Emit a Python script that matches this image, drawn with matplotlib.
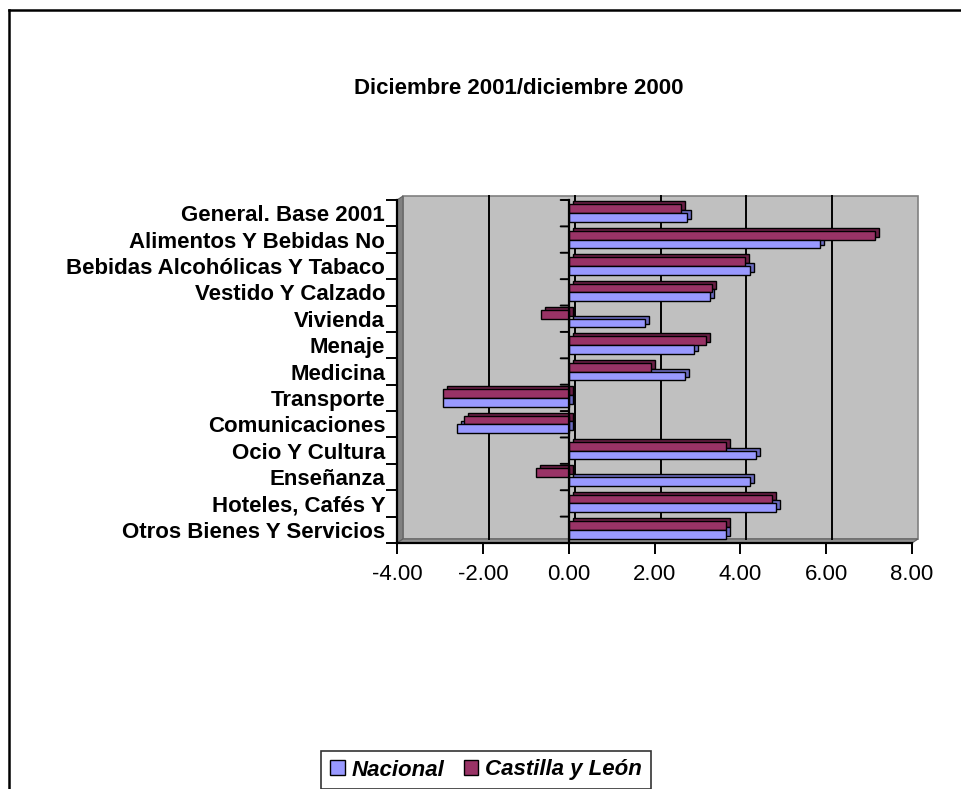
import matplotlib
matplotlib.use("Agg")
import matplotlib.pyplot as plt
import matplotlib.transforms as mtransforms
from matplotlib.patches import Rectangle, Polygon
from matplotlib.lines import Line2D

# Variación interanual del IPC por grupos (%)
categories = [
    "General. Base 2001",
    "Alimentos Y Bebidas No",
    "Bebidas Alcohólicas Y Tabaco",
    "Vestido Y Calzado",
    "Vivienda",
    "Menaje",
    "Medicina",
    "Transporte",
    "Comunicaciones",
    "Ocio Y Cultura",
    "Enseñanza",
    "Hoteles, Cafés Y",
    "Otros Bienes Y Servicios",
]
nacional = [2.75, 5.85, 4.22, 3.29, 1.77, 2.93, 2.70, -2.93, -2.60, 4.36, 4.22, 4.82, 3.67]
castilla = [2.62, 7.14, 4.11, 3.33, -0.65, 3.19, 1.91, -2.93, -2.43, 3.67, -0.75, 4.74, 3.67]
series_names = ["Nacional", "Castilla y León"]
x_ticks = [-4, -2, 0, 2, 4, 6, 8]
x_tick_labels = ["-4.00", "-2.00", "0.00", "2.00", "4.00", "6.00", "8.00"]
title = "Diciembre 2001/diciembre 2000"

plt.rcParams["font.family"] = ["Liberation Sans", "DejaVu Sans"]
FS = 16

W, H, DPI = 961, 789, 100
fig = plt.figure(figsize=(W / DPI, H / DPI), dpi=DPI)
fig.patch.set_facecolor("white")

ax_l, ax_r, ax_t, ax_b = 397, 912, 200, 543
ax = fig.add_axes([ax_l / W, 1 - ax_b / H, (ax_r - ax_l) / W, (ax_b - ax_t) / H])
ax.set_facecolor("none")
ax.set_xlim(x_ticks[0], x_ticks[-1])
n = len(categories)
ax.set_ylim(n, 0)

# depth of the 3D wall, in pixels
dpx, dpy = 6, 4
dx = dpx / (ax_r - ax_l)
dy = dpy / (ax_b - ax_t)
wall_off = mtransforms.ScaledTranslation(dpx / DPI, dpy / DPI, fig.dpi_scale_trans)

# back wall, side wall and floor
ax.add_patch(Rectangle((dx, dy), 1, 1, transform=ax.transAxes, facecolor="#C0C0C0",
                       edgecolor="#808080", lw=1.2, zorder=0, clip_on=False))
ax.add_patch(Polygon([(0, 0), (0, 1), (dx, 1 + dy), (dx, dy)], closed=True,
                     transform=ax.transAxes, facecolor="#808080", edgecolor="#606060",
                     lw=0.8, zorder=0.2, clip_on=False))
ax.add_patch(Polygon([(0, 0), (1, 0), (1 + dx, dy), (dx, dy)], closed=True,
                     transform=ax.transAxes, facecolor="#909090", edgecolor="#606060",
                     lw=0.8, zorder=0.2, clip_on=False))

# vertical gridlines on the back wall
grid_tr = mtransforms.blended_transform_factory(ax.transData, ax.transAxes) + wall_off
for xv in x_ticks[1:-1]:
    ax.plot([xv, xv], [0, 1], color="black", lw=1.4, transform=grid_tr,
            zorder=0.5, clip_on=False)

# category axis at zero with short ticks between groups
ax.plot([0, 0], [0, n], color="black", lw=1.6, zorder=4, clip_on=False)
for k in range(n + 1):
    ax.annotate("", xy=(0, k), xytext=(-8, 0), textcoords="offset pixels",
                arrowprops=dict(arrowstyle="-", color="black", lw=1.4,
                                shrinkA=0, shrinkB=0), zorder=4)

# bars drawn as shallow boxes: shaded depth copy behind, front face on top
bar_h = 0.33
centers_c = [i + 0.5 - bar_h / 2 for i in range(n)]
centers_n = [i + 0.5 + bar_h / 2 for i in range(n)]
depth_off = mtransforms.ScaledTranslation(4 / DPI, 3 / DPI, fig.dpi_scale_trans)
depth_tr = ax.transData + depth_off

colors = {"Nacional": ("#9999FF", "#6B6BC0"), "Castilla y León": ("#993366", "#6A1F45")}
for name, vals, ys in [("Castilla y León", castilla, centers_c), ("Nacional", nacional, centers_n)]:
    face, shade = colors[name]
    ax.barh(ys, vals, height=bar_h, color=shade, edgecolor="black", lw=1.0,
            transform=depth_tr, zorder=2)
for name, vals, ys in [("Castilla y León", castilla, centers_c), ("Nacional", nacional, centers_n)]:
    face, shade = colors[name]
    ax.barh(ys, vals, height=bar_h, color=face, edgecolor="black", lw=1.0,
            zorder=3, label=name)

# axes styling
for s in ["top", "right"]:
    ax.spines[s].set_visible(False)
ax.spines["left"].set_linewidth(1.6)
ax.spines["bottom"].set_linewidth(1.6)
ax.spines["left"].set_zorder(5)
ax.spines["bottom"].set_zorder(5)

ax.set_yticks(range(n + 1))
ax.set_yticklabels([])
ax.set_yticks([i + 0.5 for i in range(n)], minor=True)
ax.set_yticklabels(categories, minor=True, fontsize=FS, fontweight="bold")
ax.tick_params(axis="y", which="major", length=8, width=1.4, direction="out")
ax.tick_params(axis="y", which="minor", length=0, pad=8.5)

ax.set_xticks(x_ticks)
ax.set_xticklabels(x_tick_labels, fontsize=FS)
ax.tick_params(axis="x", length=8, width=1.4, direction="out", pad=7)

# title
fig.text(519 / W, 1 - 89 / H, title, ha="center", va="center", fontsize=FS, fontweight="bold")

# legend
handles = [Rectangle((0, 0), 1, 1, facecolor=colors[s][0], edgecolor="black", lw=1.0)
           for s in series_names]
leg = fig.legend(handles, series_names, loc="center", bbox_to_anchor=(486 / W, 1 - 770 / H),
                 ncol=2, frameon=True, fancybox=False, edgecolor="black",
                 prop=dict(size=FS, weight="bold", style="italic"),
                 handlelength=0.65, handleheight=0.65, handletextpad=0.3,
                 columnspacing=0.9, borderpad=0.4, borderaxespad=0)
leg.get_frame().set_linewidth(1.2)

# outer chart border (top and left edges)
fig.add_artist(Line2D([9 / W, 1], [1 - 9.5 / H, 1 - 9.5 / H], color="black", lw=1.8,
                      transform=fig.transFigure))
fig.add_artist(Line2D([9 / W, 9 / W], [0, 1 - 9.5 / H], color="black", lw=1.8,
                      transform=fig.transFigure))

fig.savefig("out.png", dpi=DPI)
